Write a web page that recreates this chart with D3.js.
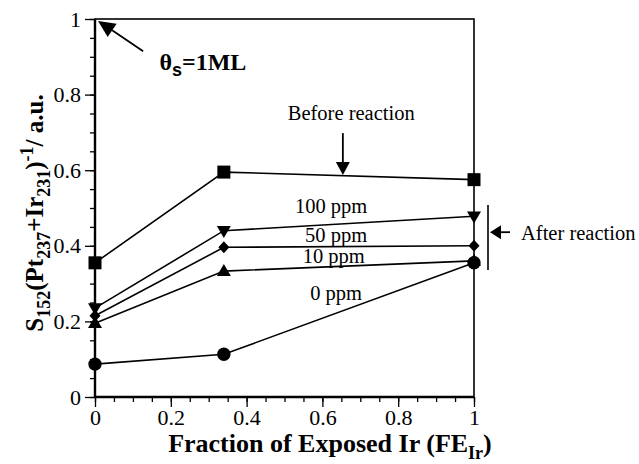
<!DOCTYPE html>
<html>
<head>
<meta charset="utf-8">
<style>
  body { margin: 0; background: #fff; }
  text { font-family: "Liberation Serif", "Times New Roman", serif; fill: #000; }
</style>
<script src="https://cdn.jsdelivr.net/npm/d3@7"></script>
</head>
<body>
<svg id="chart"></svg>
<script>

// ============ Data ============
var fractionIr = [0, 0.34, 1];
var beforeReaction = [0.355, 0.595, 0.575];
var after100 = [0.235, 0.44, 0.478];
var after50 = [0.215, 0.396, 0.40];
var after10 = [0.195, 0.333, 0.36];
var after0 = [0.087, 0.113, 0.355];
var seriesLabels = ['Before reaction', '100 ppm', '50 ppm', '10 ppm', '0 ppm'];
var tickValues = [0, 0.2, 0.4, 0.6, 0.8, 1];
var tickLabels = ['0', '0.2', '0.4', '0.6', '0.8', '1'];

var W = 639, H = 464;
var margin = {top: 19, right: 165, bottom: 67, left: 95};
var width = W - margin.left - margin.right,
    height = H - margin.top - margin.bottom;

var svg = d3.select('#chart')
    .attr('width', W)
    .attr('height', H);
var g = svg.append('g')
    .attr('transform', `translate(${margin.left}, ${margin.top})`);

var x = d3.scaleLinear().domain([0, 1]).range([0, width]);
var y = d3.scaleLinear().domain([0, 1]).range([height, 0]);

// ============ Axes ============
var minor = d3.range(0, 1.0001, 0.05);

var xAxis = d3.axisBottom(x).tickValues(tickValues)
    .tickFormat((d, i) => tickLabels[i]).tickSize(10).tickPadding(2);
var xMinor = d3.axisBottom(x).tickValues(minor).tickFormat('').tickSize(5);
var yAxis = d3.axisLeft(y).tickValues(tickValues)
    .tickFormat((d, i) => tickLabels[i]).tickSize(10).tickPadding(4);
var yMinor = d3.axisLeft(y).tickValues(minor).tickFormat('').tickSize(5);

[xAxis, xMinor].forEach(a => g.append('g')
    .attr('class', 'axis')
    .attr('transform', `translate(0, ${height})`)
    .call(a));
[yAxis, yMinor].forEach(a => g.append('g')
    .attr('class', 'axis')
    .call(a));

g.selectAll('.axis .domain').remove();
g.selectAll('.axis line').attr('stroke', '#000').attr('stroke-width', 1.3);
g.selectAll('.axis text')
    .style('font-family', '"Liberation Serif", serif')
    .style('font-size', '22px')
    .attr('fill', '#000');

// frame
g.append('rect')
    .attr('width', width).attr('height', height)
    .attr('fill', 'none').attr('stroke', '#000').attr('stroke-width', 1.6);
g.append('line').attr('x1', 0).attr('x2', 0).attr('y1', 0).attr('y2', height)
    .attr('stroke', '#000').attr('stroke-width', 2.4);
g.append('line').attr('x1', 0).attr('x2', width).attr('y1', height).attr('y2', height)
    .attr('stroke', '#000').attr('stroke-width', 2.4);

// ============ Series ============
function diamond(w, h) {
    return `M0,${-h / 2}L${w / 2},0L0,${h / 2}L${-w / 2},0Z`;
}
function triangle(w, h, down) {
    var s = down ? -1 : 1;
    return `M0,${-s * h * 0.6}L${w / 2},${s * h * 0.4}L${-w / 2},${s * h * 0.4}Z`;
}
var markers = {
    square: 'M-6.5,-6.5H6.5V6.5H-6.5Z',
    down: triangle(14, 12, true),
    diamond: diamond(11, 12),
    up: triangle(14, 12, false),
    circle: d3.symbol(d3.symbolCircle, Math.PI * 6.7 * 6.7)()
};

var series = [
    {values: after0, marker: 'circle'},
    {values: after10, marker: 'up'},
    {values: after50, marker: 'diamond'},
    {values: after100, marker: 'down'},
    {values: beforeReaction, marker: 'square'}
];

var line = d3.line()
    .x((d, i) => x(fractionIr[i]))
    .y(d => y(d));

series.forEach(function (s) {
    g.append('path')
        .datum(s.values)
        .attr('d', line)
        .attr('fill', 'none')
        .attr('stroke', '#000')
        .attr('stroke-width', 1.6);
    g.selectAll(null)
        .data(s.values)
        .enter()
        .append('path')
            .attr('d', markers[s.marker])
            .attr('transform', (d, i) => `translate(${x(fractionIr[i])}, ${y(d)})`)
            .attr('fill', '#000');
});

// ============ Annotations ============
function arrow(x1, y1, x2, y2, len, half) {
    var a = Math.atan2(y2 - y1, x2 - x1);
    var bx = x2 - len * Math.cos(a), by = y2 - len * Math.sin(a);
    g.append('line')
        .attr('x1', x1).attr('y1', y1).attr('x2', bx).attr('y2', by)
        .attr('stroke', '#000').attr('stroke-width', 1.8);
    var px = -Math.sin(a) * half, py = Math.cos(a) * half;
    g.append('path')
        .attr('d', `M${x2},${y2}L${bx + px},${by + py}L${bx - px},${by - py}Z`)
        .attr('fill', '#000');
}

// Series labels
var labelPos = [[0.676, 0.733], [0.623, 0.487], [0.636, 0.41], [0.63, 0.354], [0.636, 0.257]];
seriesLabels.forEach(function (t, i) {
    g.append('text')
        .attr('x', x(labelPos[i][0]))
        .attr('y', y(labelPos[i][1]))
        .attr('text-anchor', 'middle')
        .style('font-size', '20.5px')
        .text(t);
});

// Before reaction arrow
arrow(x(0.654), y(0.698), x(0.654), y(0.587), 13, 7);

// After reaction bracket and arrow
g.append('line')
    .attr('x1', width + 14).attr('x2', width + 14)
    .attr('y1', y(0.508)).attr('y2', y(0.336))
    .attr('stroke', '#000').attr('stroke-width', 1.6);
arrow(width + 36, y(0.436), width + 16, y(0.436), 11, 7);
g.append('text')
    .attr('x', width + 47)
    .attr('y', y(0.415))
    .style('font-size', '20.5px')
    .text('After reaction');

// theta_s = 1ML
arrow(x(0.127), y(0.915), x(0.008), y(0.995), 17, 8);
var th = g.append('text')
    .attr('x', x(0.17))
    .attr('y', y(0.865))
    .style('font-size', '24px')
    .style('font-weight', 'bold');
th.append('tspan').text('θ');
th.append('tspan').attr('dy', 6)
    .style('font-family', '"Liberation Sans", Arial, sans-serif')
    .style('font-size', '18px').text('s');
th.append('tspan').attr('dy', -6).text('=1ML');

// ============ Axis titles ============
var xt = svg.append('text')
    .attr('x', margin.left + width * 0.62)
    .attr('y', 452)
    .attr('text-anchor', 'middle')
    .style('font-size', '26px')
    .style('font-weight', 'bold');
xt.append('tspan').text('Fraction of Exposed Ir (FE');
xt.append('tspan').attr('dy', 7).style('font-size', '18px').text('Ir');
xt.append('tspan').attr('dy', -7).text(')');

var yt = svg.append('text')
    .attr('transform', `translate(43, ${213}) rotate(-90)`)
    .attr('text-anchor', 'middle')
    .style('font-size', '25px')
    .style('font-weight', 'bold');
yt.append('tspan').text('S');
yt.append('tspan').attr('dy', 7).style('font-size', '18px').text('152');
yt.append('tspan').attr('dy', -7).text('(Pt');
yt.append('tspan').attr('dy', 7).style('font-size', '18px').text('237');
yt.append('tspan').attr('dy', -7).text('+Ir');
yt.append('tspan').attr('dy', 7).style('font-size', '18px').text('231');
yt.append('tspan').attr('dy', -7).text(')');
yt.append('tspan').attr('dy', -10).style('font-size', '18px').text('-1');
yt.append('tspan').attr('dy', 10).text('/ a.u.');

</script>
</body>
</html>
